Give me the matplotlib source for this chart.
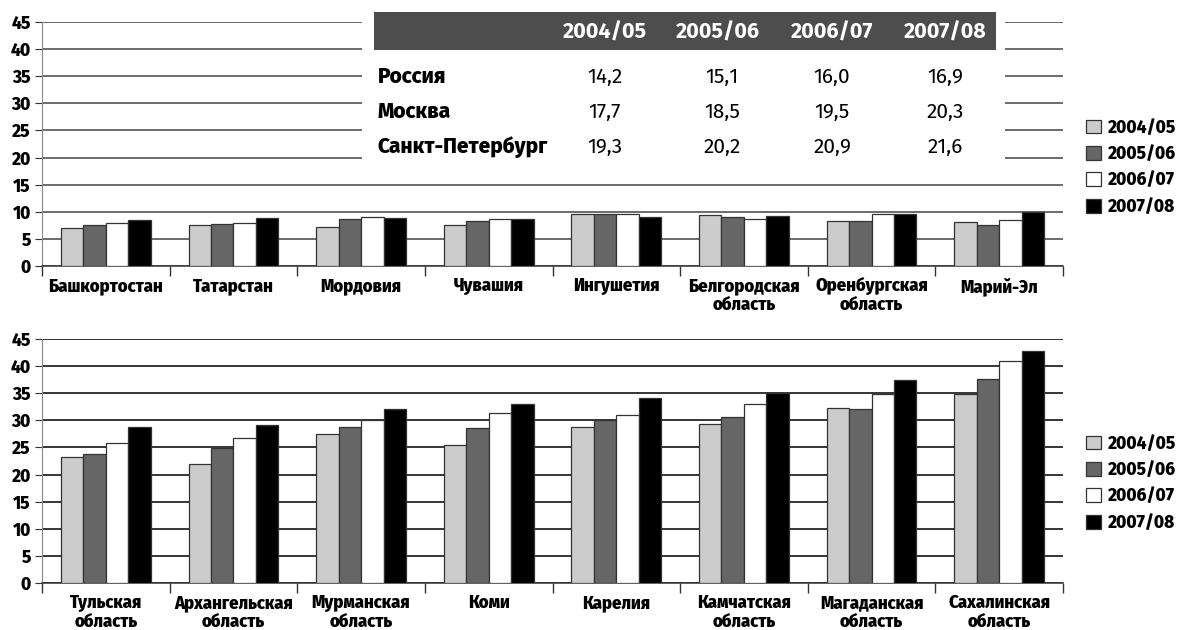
import matplotlib
matplotlib.use("Agg")
import matplotlib.pyplot as plt
from matplotlib.patches import Rectangle
import numpy as np

COND = ['Fira Sans Condensed', 'PT Sans Narrow', 'DejaVu Sans']
WIDE = ['Fira Sans', 'PT Sans', 'DejaVu Sans']
plt.rcParams['font.family'] = COND

seasons = ["2004/05", "2005/06", "2006/07", "2007/08"]
colors = ["#cccccc", "#666666", "#ffffff", "#000000"]

regions_top = ["Башкортостан", "Татарстан", "Мордовия", "Чувашия", "Ингушетия",
               "Белгородская\nобласть", "Оренбургская\nобласть", "Марий-Эл"]
top_04 = [7.0, 7.5, 7.2, 7.5, 9.6, 9.45, 8.3, 8.15]
top_05 = [7.5, 7.8, 8.6, 8.3, 9.6, 9.1, 8.3, 7.6]
top_06 = [8.0, 8.0, 8.95, 8.7, 9.6, 8.6, 9.6, 8.5]
top_07 = [8.45, 8.8, 8.9, 8.6, 8.95, 9.3, 9.6, 9.9]

regions_bot = ["Тульская\nобласть", "Архангельская\nобласть", "Мурманская\nобласть", "Коми",
               "Карелия", "Камчатская\nобласть", "Магаданская\nобласть", "Сахалинская\nобласть"]
bot_04 = [23.3, 22.0, 27.4, 25.4, 28.8, 29.4, 32.2, 34.8]
bot_05 = [23.8, 24.9, 28.8, 28.5, 30.1, 30.6, 32.0, 37.6]
bot_06 = [25.9, 26.7, 30.1, 31.3, 30.9, 33.1, 34.8, 41.0]
bot_07 = [28.8, 29.1, 32.0, 33.1, 34.1, 35.0, 37.5, 42.8]

table_rows = ["Россия", "Москва", "Санкт-Петербург"]
table_vals = [["14,2", "15,1", "16,0", "16,9"],
              ["17,7", "18,5", "19,5", "20,3"],
              ["19,3", "20,2", "20,9", "21,6"]]

W, H = 1182, 630
fig = plt.figure(figsize=(W / 100, H / 100), dpi=100)


def fx(px):
    return px / W


def fy(py):
    return 1 - py / H


def draw_panel(rect, cats, series, gridcol, legend_y):
    ax = fig.add_axes(rect)
    x = np.arange(len(cats))
    w = 0.176
    bars = []
    for i, vals in enumerate(series):
        b = ax.bar(x + (i - 1.5) * w, vals, w, color=colors[i], edgecolor="#333333",
                   linewidth=0.9, zorder=3, label=seasons[i])
        bars.append(b)
    ax.set_xlim(-0.5, len(cats) - 0.5)
    ax.set_ylim(0, 45)
    ax.set_yticks(range(0, 46, 5))
    ax.yaxis.grid(True, color=gridcol, linewidth=1.1, zorder=0)
    ax.set_axisbelow(True)
    for s in ["top", "right"]:
        ax.spines[s].set_visible(False)
    ax.spines["left"].set_color("#888888")
    ax.spines["bottom"].set_color("#333333")
    ax.spines["bottom"].set_linewidth(1.1)
    ax.set_xticks(x)
    ax.set_xticklabels(cats, fontsize=13.3, fontweight=800, linespacing=1.05)
    ax.tick_params(axis="x", which="major", length=0, pad=8)
    ax.set_xticks(np.arange(-0.5, len(cats), 1.0), minor=True)
    ax.tick_params(axis="x", which="minor", length=7, color="#333333", width=1)
    ax.tick_params(axis="y", length=5, color="#333333", pad=3)
    for lab in ax.get_yticklabels():
        lab.set_family(WIDE)
        lab.set_fontweight(800)
        lab.set_fontsize(12.5)
    fig.legend(handles=bars, labels=seasons, loc="center left",
               bbox_to_anchor=(fx(1086), fy(legend_y)), frameon=False,
               prop={"weight": 800, "size": 12.5, "family": WIDE},
               handlelength=0.85, handleheight=0.85,
               handletextpad=0.4, labelspacing=0.5, borderpad=0, borderaxespad=0)
    return ax


ax1 = draw_panel([fx(42), fy(266), fx(1063) - fx(42), fy(22) - fy(266)],
                 regions_top, [top_04, top_05, top_06, top_07], "#444444", 167)
ax2 = draw_panel([fx(42), fy(583), fx(1063) - fx(42), fy(339) - fy(583)],
                 regions_bot, [bot_04, bot_05, bot_06, bot_07], "#000000", 483)

# table over the upper chart
fig.patches.append(Rectangle((fx(362), fy(172)), fx(1005) - fx(362), fy(8) - fy(172),
                             transform=fig.transFigure, facecolor="white", edgecolor="none", zorder=5))
fig.patches.append(Rectangle((fx(374), fy(50)), fx(996) - fx(374), fy(12) - fy(50),
                             transform=fig.transFigure, facecolor="#4d4d4d", edgecolor="none", zorder=6))
head_right = [647, 760, 873, 987]
val_center = [605, 722, 832, 945]
row_y = [77, 112, 147]
for s, xr in zip(seasons, head_right):
    fig.text(fx(xr), fy(32), s, ha="right", va="center", color="white",
             fontsize=15.5, fontweight="bold", family=WIDE, zorder=7)
for r, name in enumerate(table_rows):
    fig.text(fx(378), fy(row_y[r]), name, ha="left", va="center", fontsize=15,
             fontweight=800, family=WIDE, zorder=7)
    for c, v in enumerate(table_vals[r]):
        fig.text(fx(val_center[c]), fy(row_y[r]), v, ha="center", va="center",
                 fontsize=15, fontweight="normal", family=WIDE, zorder=7)

fig.savefig("out.png", dpi=100)
